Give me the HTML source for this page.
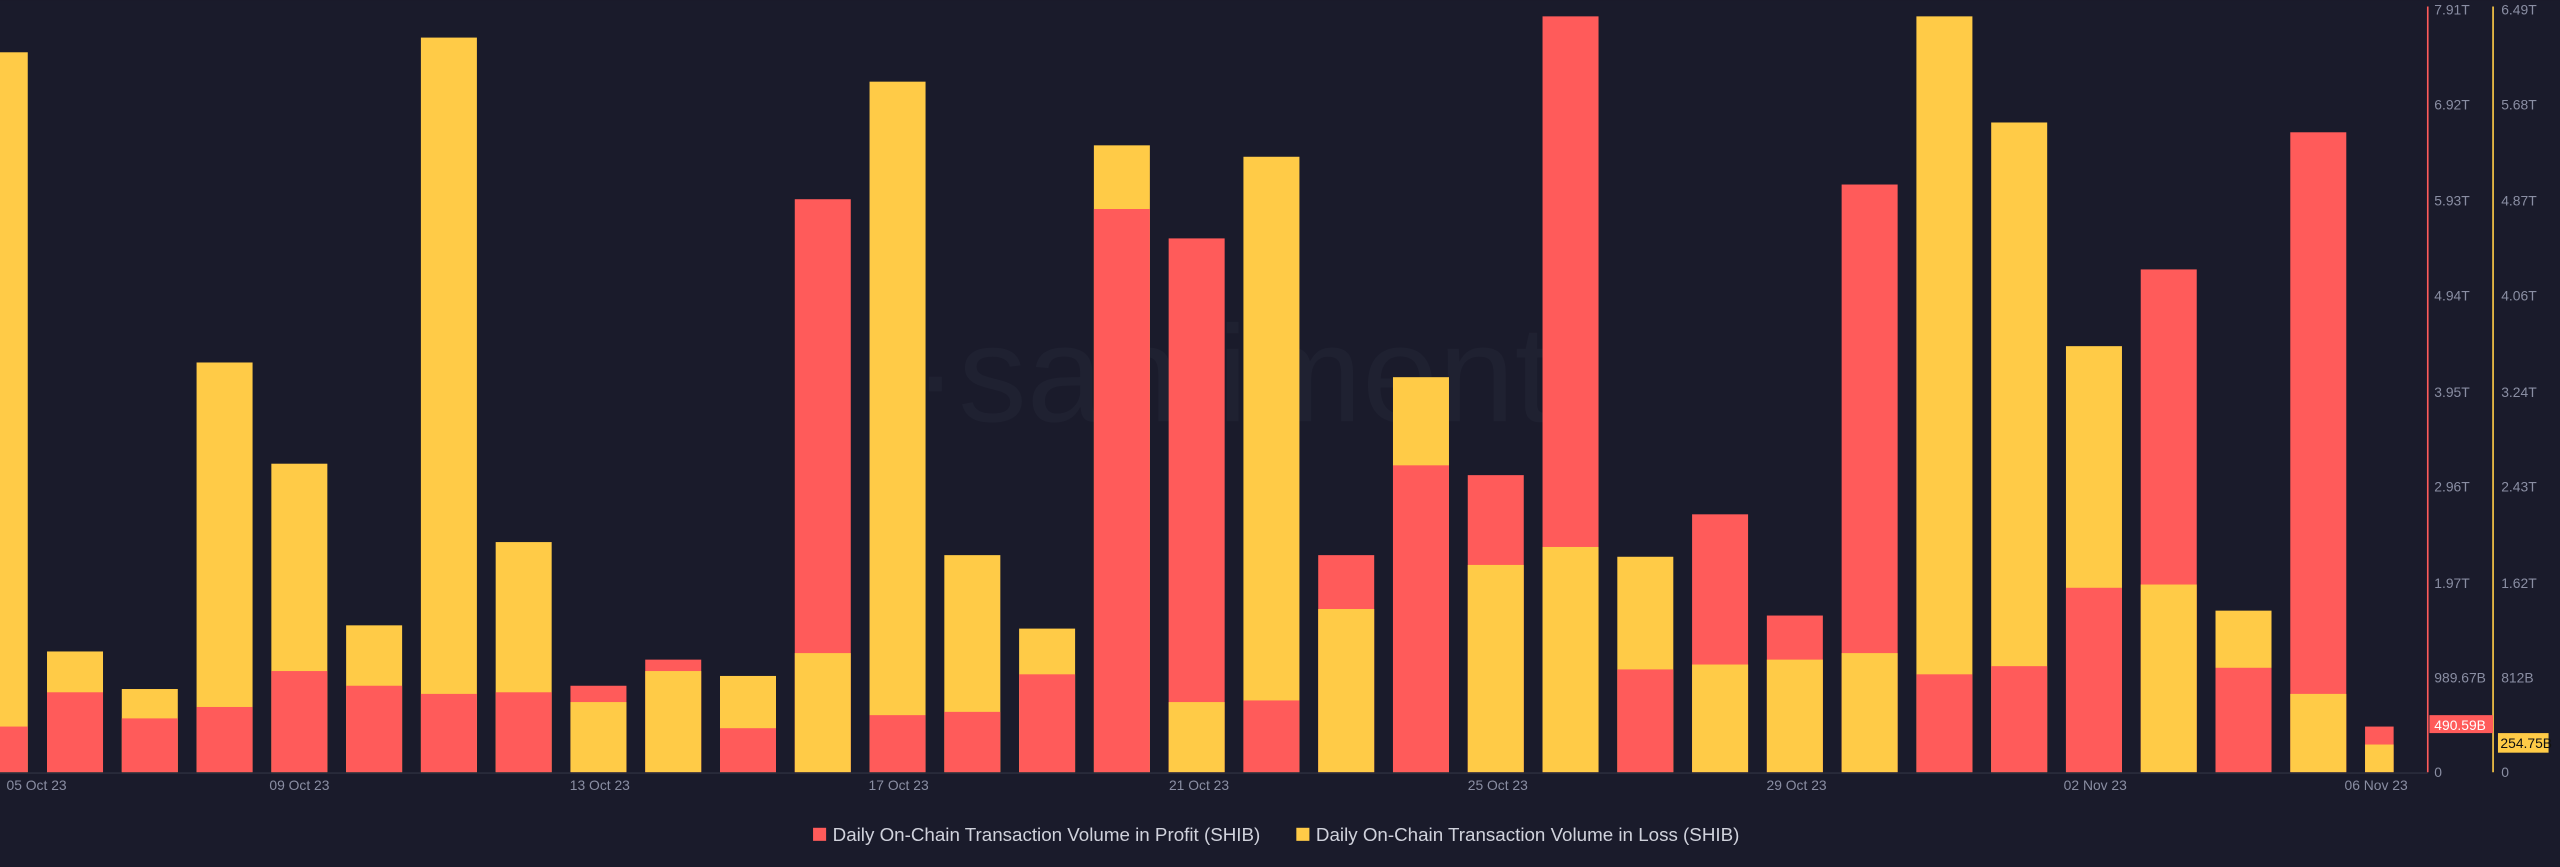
<!DOCTYPE html>
<html><head><meta charset="utf-8"><style>
html,body{margin:0;padding:0;background:#1a1b2b;}
svg{display:block;font-family:"Liberation Sans",sans-serif;}
.r{fill:#ff5b5a}.y{fill:#ffcb47}
</style></head><body>
<svg width="2560" height="867" viewBox="0 0 1568 531" xmlns="http://www.w3.org/2000/svg">
<rect width="1568" height="531" fill="#1a1b2b"/>
<text x="755" y="258" font-size="84" fill="#1f2131" text-anchor="middle">·santiment</text>
<g>
<rect class="y" x="0" y="32" width="17" height="441"/><rect class="r" x="0" y="445" width="17" height="28"/>
<rect class="y" x="28.8" y="399" width="34.3" height="74"/><rect class="r" x="28.8" y="424" width="34.3" height="49"/>
<rect class="y" x="74.6" y="422" width="34.3" height="51"/><rect class="r" x="74.6" y="440" width="34.3" height="33"/>
<rect class="y" x="120.4" y="222" width="34.3" height="251"/><rect class="r" x="120.4" y="433" width="34.3" height="40"/>
<rect class="y" x="166.2" y="284" width="34.3" height="189"/><rect class="r" x="166.2" y="411" width="34.3" height="62"/>
<rect class="y" x="212" y="383" width="34.3" height="90"/><rect class="r" x="212" y="420" width="34.3" height="53"/>
<rect class="y" x="257.8" y="23" width="34.3" height="450"/><rect class="r" x="257.8" y="425" width="34.3" height="48"/>
<rect class="y" x="303.6" y="332" width="34.3" height="141"/><rect class="r" x="303.6" y="424" width="34.3" height="49"/>
<rect class="r" x="349.4" y="420" width="34.3" height="53"/><rect class="y" x="349.4" y="430" width="34.3" height="43"/>
<rect class="r" x="395.2" y="404" width="34.3" height="69"/><rect class="y" x="395.2" y="411" width="34.3" height="62"/>
<rect class="y" x="441" y="414" width="34.3" height="59"/><rect class="r" x="441" y="446" width="34.3" height="27"/>
<rect class="r" x="486.8" y="122" width="34.3" height="351"/><rect class="y" x="486.8" y="400" width="34.3" height="73"/>
<rect class="y" x="532.6" y="50" width="34.3" height="423"/><rect class="r" x="532.6" y="438" width="34.3" height="35"/>
<rect class="y" x="578.4" y="340" width="34.3" height="133"/><rect class="r" x="578.4" y="436" width="34.3" height="37"/>
<rect class="y" x="624.2" y="385" width="34.3" height="88"/><rect class="r" x="624.2" y="413" width="34.3" height="60"/>
<rect class="y" x="670" y="89" width="34.3" height="384"/><rect class="r" x="670" y="128" width="34.3" height="345"/>
<rect class="r" x="715.8" y="146" width="34.3" height="327"/><rect class="y" x="715.8" y="430" width="34.3" height="43"/>
<rect class="y" x="761.6" y="96" width="34.3" height="377"/><rect class="r" x="761.6" y="429" width="34.3" height="44"/>
<rect class="r" x="807.4" y="340" width="34.3" height="133"/><rect class="y" x="807.4" y="373" width="34.3" height="100"/>
<rect class="y" x="853.2" y="231" width="34.3" height="242"/><rect class="r" x="853.2" y="285" width="34.3" height="188"/>
<rect class="r" x="899" y="291" width="34.3" height="182"/><rect class="y" x="899" y="346" width="34.3" height="127"/>
<rect class="r" x="944.8" y="10" width="34.3" height="463"/><rect class="y" x="944.8" y="335" width="34.3" height="138"/>
<rect class="y" x="990.6" y="341" width="34.3" height="132"/><rect class="r" x="990.6" y="410" width="34.3" height="63"/>
<rect class="r" x="1036.4" y="315" width="34.3" height="158"/><rect class="y" x="1036.4" y="407" width="34.3" height="66"/>
<rect class="r" x="1082.2" y="377" width="34.3" height="96"/><rect class="y" x="1082.2" y="404" width="34.3" height="69"/>
<rect class="r" x="1128" y="113" width="34.3" height="360"/><rect class="y" x="1128" y="400" width="34.3" height="73"/>
<rect class="y" x="1173.8" y="10" width="34.3" height="463"/><rect class="r" x="1173.8" y="413" width="34.3" height="60"/>
<rect class="y" x="1219.6" y="75" width="34.3" height="398"/><rect class="r" x="1219.6" y="408" width="34.3" height="65"/>
<rect class="y" x="1265.4" y="212" width="34.3" height="261"/><rect class="r" x="1265.4" y="360" width="34.3" height="113"/>
<rect class="r" x="1311.2" y="165" width="34.3" height="308"/><rect class="y" x="1311.2" y="358" width="34.3" height="115"/>
<rect class="y" x="1357" y="374" width="34.3" height="99"/><rect class="r" x="1357" y="409" width="34.3" height="64"/>
<rect class="r" x="1402.8" y="81" width="34.3" height="392"/><rect class="y" x="1402.8" y="425" width="34.3" height="48"/>
<rect class="r" x="1448.6" y="445" width="17.5" height="28"/><rect class="y" x="1448.6" y="456" width="17.5" height="17"/>
</g>
<line x1="0" y1="473.5" x2="1487" y2="473.5" stroke="#2a2c3d" stroke-width="1"/>
<line x1="1487" y1="4" x2="1487" y2="473" stroke="#ff5b5a" stroke-width="1"/>
<line x1="1527" y1="4" x2="1527" y2="473" stroke="#ffcb47" stroke-width="1"/>
<g font-size="8.5" fill="#8a8ea3">
<text x="1491" y="9">7.91T</text><text x="1491" y="67">6.92T</text><text x="1491" y="126">5.93T</text><text x="1491" y="184">4.94T</text><text x="1491" y="243">3.95T</text><text x="1491" y="301">2.96T</text><text x="1491" y="360">1.97T</text><text x="1491" y="418">989.67B</text><text x="1491" y="476">0</text>
<text x="1532" y="9">6.49T</text><text x="1532" y="67">5.68T</text><text x="1532" y="126">4.87T</text><text x="1532" y="184">4.06T</text><text x="1532" y="243">3.24T</text><text x="1532" y="301">2.43T</text><text x="1532" y="360">1.62T</text><text x="1532" y="418">812B</text><text x="1532" y="476">0</text>
<text x="4" y="484">05 Oct 23</text><text x="165" y="484">09 Oct 23</text><text x="349" y="484">13 Oct 23</text><text x="532" y="484">17 Oct 23</text><text x="716" y="484">21 Oct 23</text><text x="899" y="484">25 Oct 23</text><text x="1082" y="484">29 Oct 23</text><text x="1264" y="484">02 Nov 23</text><text x="1436" y="484">06 Nov 23</text>
</g>
<rect x="1488" y="438" width="39" height="11" fill="#ff5b5a"/>
<text x="1491" y="447" font-size="8.5" fill="#fff">490.59B</text>
<rect x="1530" y="449" width="31" height="12" fill="#ffcb47"/>
<text x="1531.5" y="458" font-size="8.5" fill="#111">254.75B</text>
<rect x="498" y="507" width="8" height="8" fill="#ff5b5a"/>
<text x="510" y="515" font-size="11.5" fill="#d0d2dc">Daily On-Chain Transaction Volume in Profit (SHIB)</text>
<rect x="794" y="507" width="8" height="8" fill="#ffcb47"/>
<text x="806" y="515" font-size="11.5" fill="#d0d2dc">Daily On-Chain Transaction Volume in Loss (SHIB)</text>
</svg>
</body></html>
